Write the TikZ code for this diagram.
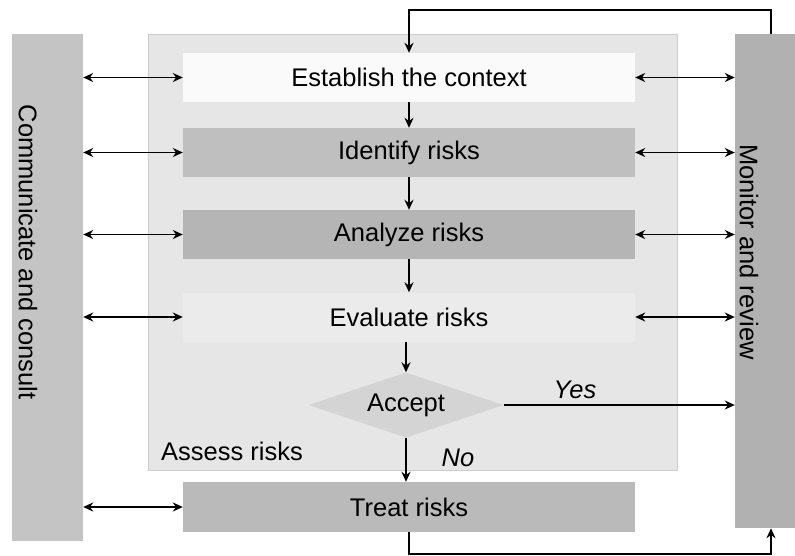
\documentclass[tikz,border=0pt]{standalone}
\usepackage{fontspec}
\setmainfont{Liberation Sans}
\usetikzlibrary{shapes.geometric,arrows.meta}
\definecolor{sidegray}{HTML}{C4C4C4}
\definecolor{mongray}{HTML}{B1B1B1}
\definecolor{assessgray}{HTML}{E6E6E6}
\begin{document}
\begin{tikzpicture}[x=1pt,y=-1pt,
  every node/.style={font=\fontsize{25.5}{30}\selectfont},
  riskbox/.style={rectangle,minimum width=452pt,minimum height=49pt,inner sep=0pt},
  arr/.style={-{Stealth[length=10pt,width=9pt]},line width=2pt},
  dbl/.style={{Stealth[length=10pt,width=9pt]}-{Stealth[length=10pt,width=9pt]},line width=1.8pt}]
  \useasboundingbox (0,0) rectangle (795,555);
  \node[fill=sidegray,minimum width=71pt,minimum height=507pt,inner sep=0pt] (cc) at (47.5,287.5) {};
  \node[fill=mongray,minimum width=60pt,minimum height=494pt,inner sep=0pt] (mr) at (765,281) {};
  \node[rotate=-90] (cclabel) at (28,252) {Communicate and consult};
  \node[rotate=-90] (mrlabel) at (749,252) {Monitor and review};
  \node[fill=assessgray,draw=black!20,minimum width=529pt,minimum height=436pt,inner sep=0pt] (assess) at (412.5,252) {};
  \node (assesslabel) at (232,451) {Assess risks};
  \node[riskbox,fill=black!2] (est) at (409,77.5) {Establish the context};
  \node[riskbox,fill=black!25] (ident) at (409,152.5) {Identify risks};
  \node[riskbox,fill=black!29] (anal) at (409,234.5) {Analyze risks};
  \node[riskbox,fill=black!8] (eval) at (409,317) {Evaluate risks};
  \node[diamond,fill=black!17,minimum width=195pt,minimum height=65pt,inner sep=0pt,aspect=3] (acc) at (406,405) {Accept};
  \node[riskbox,fill=black!27,minimum height=50pt] (treat) at (409,507) {Treat risks};
  \node[font=\fontsize{25.5}{30}\selectfont\itshape] (yes) at (575,390) {Yes};
  \node[font=\fontsize{25.5}{30}\selectfont\itshape] (no) at (458,458) {No};
  \draw[arr] (est) -- (ident);
  \draw[arr] (ident) -- (anal);
  \draw[arr] (anal) -- (eval);
  \draw[arr] (eval.south -| acc.north) -- (acc.north);
  \draw[arr] (acc.south) -- (treat.north -| acc.south);
  \draw[arr] (acc.east) -- (acc.east -| mr.west);
  \foreach \b in {est,ident,anal,eval,treat}
    \draw[dbl] (cc.east |- \b.west) -- (\b.west);
  \foreach \b in {est,ident,anal,eval}
    \draw[dbl] (\b.east) -- (\b.east -| mr.west);
  \coordinate (fbtop) at (771,10);
  \coordinate (fbbot) at (771,554);
  \draw[arr] (fbtop |- mr.north) -- (fbtop) -| (est.north);
  \draw[arr] (treat.south) |- (fbbot) -- (fbbot |- mr.south);
\end{tikzpicture}
\end{document}
